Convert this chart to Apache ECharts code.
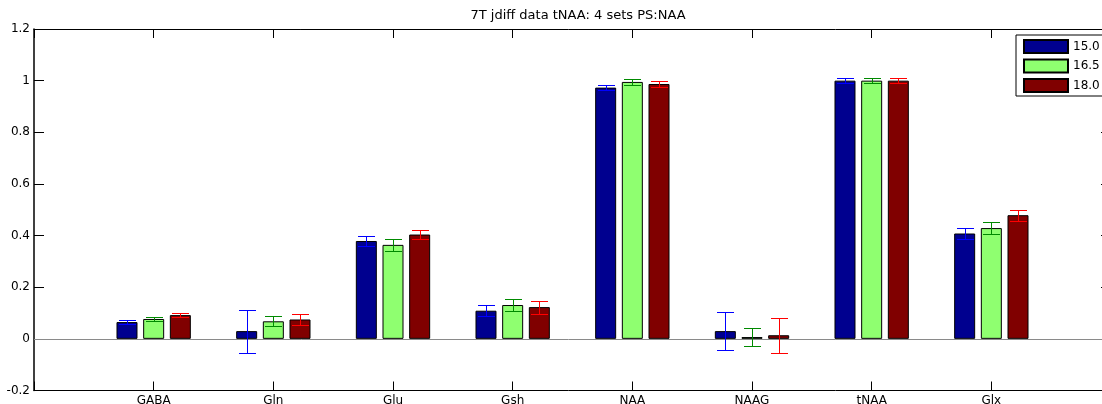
<!DOCTYPE html>
<html>
<head>
<meta charset="utf-8">
<title>7T jdiff data tNAA</title>
<script src="https://cdn.jsdelivr.net/npm/echarts@6/dist/echarts.min.js"></script>
<style>
  html, body { margin: 0; padding: 0; background: #fff; }
  #chart { width: 1102px; height: 404px; }
</style>
</head>
<body>
<div id="chart"></div>
<script>
// Metabolite categories along the x axis
const categories = ['GABA', 'Gln', 'Glu', 'Gsh', 'NAA', 'NAAG', 'tNAA', 'Glx'];

// Legend names of the three data sets
const setNames = ['15.0', '16.5', '18.0'];

// Mean ratios to tNAA for each set
const means150 = [0.065, 0.030, 0.379, 0.109, 0.973, 0.030, 1.000, 0.408];
const means165 = [0.077, 0.068, 0.364, 0.131, 0.995, 0.007, 1.000, 0.429];
const means180 = [0.092, 0.075, 0.404, 0.123, 0.987, 0.014, 1.000, 0.479];

// Error bar half-lengths for each set
const errs150 = [0.007, 0.083, 0.018, 0.022, 0.010, 0.074, 0.011, 0.020];
const errs165 = [0.008, 0.019, 0.022, 0.024, 0.011, 0.036, 0.011, 0.024];
const errs180 = [0.008, 0.020, 0.017, 0.025, 0.011, 0.068, 0.011, 0.021];

// y axis range and step
const yMin = -0.2, yMax = 1.2, yStep = 0.2;

const means = [means150, means165, means180];
const errs = [errs150, errs165, errs180];

const barColors = ['#00008f', '#8fff70', '#800000'];
const errColors = ['#0000ff', '#008a00', '#ff0000'];

const BAR_W = 21;
const BAR_GAP = 0.27;          // fraction of bar width
const STEP = BAR_W * (1 + BAR_GAP);
const CAP = 8.5;

const FONT = 'DejaVu Sans, Liberation Sans, Arial, sans-serif';

// the x axis runs one empty slot beyond each end
const axisCats = [''].concat(categories, ['']);

const barSeries = setNames.map((name, i) => ({
  name: name,
  type: 'bar',
  xAxisIndex: 0,
  yAxisIndex: 0,
  barWidth: BAR_W,
  barGap: (BAR_GAP * 100) + '%',
  z: 2,
  itemStyle: { color: barColors[i], borderColor: '#000', borderWidth: 1 },
  data: [null].concat(means[i], [null]),
  markLine: i === 0 ? {
    silent: true,
    symbol: 'none',
    label: { show: false },
    lineStyle: { color: '#8a8a8a', width: 1, type: 'solid' },
    data: [{ yAxis: 0 }],
    z: 1
  } : undefined
}));

// whisker + caps for each bar, drawn as one polyline-free group of segments
const errSeries = setNames.map((name, i) => ({
  name: name + ' err',
  type: 'custom',
  xAxisIndex: 0,
  yAxisIndex: 0,
  z: 5,
  silent: true,
  itemStyle: { color: errColors[i] },
  data: categories.map((c, k) => [k + 1, means[i][k], errs[i][k]]),
  renderItem: function (params, api) {
    const x = api.value(0), m = api.value(1), e = api.value(2);
    const top = api.coord([x, m + e]);
    const bot = api.coord([x, m - e]);
    const cx = Math.round(top[0] + (i - 1) * STEP) + 0.5;
    const ty = Math.round(top[1]) + 0.5, by = Math.round(bot[1]) + 0.5;
    const seg = (x1, y1, x2, y2) => ({
      type: 'line',
      shape: { x1: x1, y1: y1, x2: x2, y2: y2 },
      style: { stroke: errColors[i], lineWidth: 1, fill: null }
    });
    return {
      type: 'group',
      children: [
        seg(cx, ty, cx, by),
        seg(cx - CAP, ty, cx + CAP, ty),
        seg(cx - CAP, by, cx + CAP, by)
      ]
    };
  }
}));

const chart = echarts.init(document.getElementById('chart'), null, { renderer: 'canvas' });

chart.setOption({
  animation: false,
  backgroundColor: '#fff',
  title: {
    text: '7T jdiff data tNAA: 4 sets PS:NAA',
    left: 573,
    textAlign: 'center',
    top: 4,
    textStyle: { fontFamily: FONT, fontSize: 13, fontWeight: 'normal', color: '#000' }
  },
  legend: {
    data: setNames,
    orient: 'vertical',
    left: 1016,
    top: 35,
    itemWidth: 44,
    itemHeight: 13,
    itemGap: 4.5,
    padding: [4, 60, 3, 7],
    backgroundColor: '#fff',
    borderColor: '#000',
    borderWidth: 1,
    borderRadius: 0,
    icon: 'rect',
    selectedMode: false,
    textStyle: { fontFamily: FONT, fontSize: 12, color: '#000', lineHeight: 13 }
  },
  grid: { left: 34, right: -9, top: 29, bottom: 13.5, outerBoundsMode: 'none', containLabel: false },
  xAxis: [
    {
      type: 'category',
      position: 'bottom',
      data: axisCats,
      boundaryGap: false,
      axisLine: { show: true, onZero: false, lineStyle: { color: '#000', width: 1 } },
      axisTick: { show: true, inside: true, length: 9, lineStyle: { color: '#000' }, interval: 0 },
      axisLabel: { show: true, interval: 0, margin: 4, fontFamily: FONT, fontSize: 12, color: '#000' },
      splitLine: { show: false }
    },
    {
      type: 'category',
      position: 'top',
      data: axisCats,
      boundaryGap: false,
      axisLine: { show: true, onZero: false, lineStyle: { color: '#000', width: 1 } },
      axisTick: { show: true, inside: true, length: 9, lineStyle: { color: '#000' }, interval: 0 },
      axisLabel: { show: false },
      splitLine: { show: false }
    }
  ],
  yAxis: [
    {
      type: 'value',
      position: 'left',
      min: yMin, max: yMax, interval: yStep,
      axisLine: { show: true, onZero: false, lineStyle: { color: '#000', width: 1.5 } },
      axisTick: { show: true, inside: true, length: 10, lineStyle: { color: '#000' } },
      axisLabel: { show: true, margin: 4, fontFamily: FONT, fontSize: 12, color: '#000' },
      splitLine: { show: false }
    },
    {
      type: 'value',
      position: 'right',
      min: yMin, max: yMax, interval: yStep,
      axisLine: { show: true, onZero: false, lineStyle: { color: '#000', width: 1 } },
      axisTick: { show: true, inside: true, length: 10, lineStyle: { color: '#000' } },
      axisLabel: { show: false },
      splitLine: { show: false }
    }
  ],
  series: barSeries.concat(errSeries)
});
</script>
</body>
</html>
